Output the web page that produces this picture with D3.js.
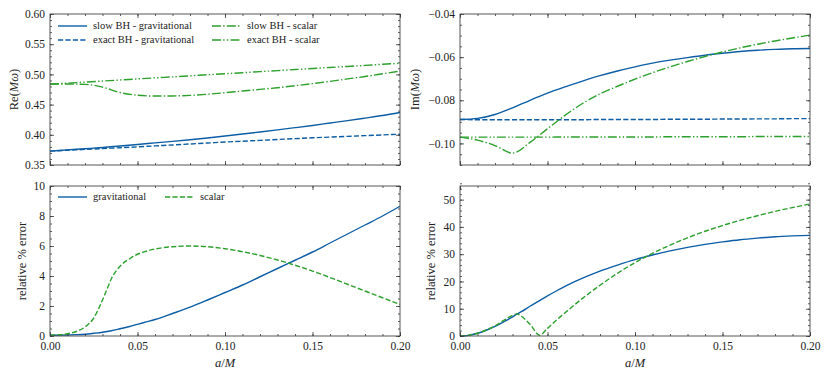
<!DOCTYPE html>
<html>
<head>
<meta charset="utf-8">
<script src="https://cdn.jsdelivr.net/npm/d3@7"></script>
<style>
  body { margin: 0; background: #fff; }
  svg { display: block; }
  svg text { font-family: "Liberation Serif", "DejaVu Serif", serif; }
</style>
</head>
<body>
<script>
// figure size
var w = 830, h = 380;

// spin grid for the frequency panels
var aGrid = [0, 0.01, 0.02, 0.03, 0.04, 0.05, 0.06, 0.07, 0.08, 0.09, 0.10,
             0.11, 0.12, 0.13, 0.14, 0.15, 0.16, 0.17, 0.18, 0.19, 0.20];

// Re(M omega)
var reSlowGrav   = [0.373, 0.375, 0.377, 0.379, 0.3815, 0.384, 0.3866, 0.3892, 0.3919, 0.3948, 0.398,
                    0.4013, 0.4047, 0.4082, 0.4118, 0.4155, 0.4195, 0.4235, 0.4277, 0.432, 0.437];
var reExactGrav  = [0.373, 0.3744, 0.3758, 0.3772, 0.3786, 0.380, 0.3816, 0.3832, 0.3848, 0.3864, 0.388,
                    0.3894, 0.3908, 0.3922, 0.3936, 0.395, 0.3962, 0.3974, 0.3986, 0.3998, 0.401];
var reSlowScalar = [0.484, 0.4841, 0.4835, 0.479, 0.470, 0.4655, 0.4642, 0.4643, 0.4652, 0.4672, 0.4697,
                    0.4725, 0.4752, 0.478, 0.4812, 0.4847, 0.4885, 0.4925, 0.4965, 0.501, 0.5056];
var reExactScalar = [0.4838, 0.4855, 0.4873, 0.4890, 0.4907, 0.4925, 0.4942, 0.4959, 0.4976, 0.4994, 0.5011,
                     0.5028, 0.5046, 0.5063, 0.5080, 0.5098, 0.5115, 0.5132, 0.5149, 0.5167, 0.5184];

// Im(M omega)
var imSlowGrav   = [-0.0889, -0.0884, -0.0866, -0.0835, -0.0800, -0.0767, -0.0738, -0.0711, -0.0686, -0.0664, -0.0645,
                    -0.0628, -0.0614, -0.0602, -0.0591, -0.0582, -0.0574, -0.0568, -0.0564, -0.0561, -0.0560];
var imExactGrav  = [-0.0889, -0.0890, -0.0890, -0.0890, -0.0890, -0.0890, -0.0890, -0.0890, -0.0889, -0.0889, -0.0889,
                    -0.0889, -0.0888, -0.0888, -0.0888, -0.0887, -0.0887, -0.0886, -0.0886, -0.0885, -0.0885];
var imSlowScalar = [-0.0971, -0.0985, -0.1010, -0.1045, -0.0995, -0.0932, -0.0870, -0.0815, -0.0770, -0.0735, -0.0702,
                    -0.0672, -0.0645, -0.0620, -0.0597, -0.0576, -0.0557, -0.0540, -0.0525, -0.0511, -0.0498];
var imExactScalar = [-0.0971, -0.0971, -0.0971, -0.0971, -0.0971, -0.0971, -0.0970, -0.0970, -0.0970, -0.0970, -0.0970,
                     -0.0970, -0.0969, -0.0969, -0.0969, -0.0969, -0.0969, -0.0968, -0.0968, -0.0968, -0.0968];

// finer spin grid for the error panels
var errGrid = [0, 0.005, 0.01, 0.015, 0.02, 0.025, 0.03, 0.0325, 0.035, 0.04, 0.0455, 0.05, 0.055, 0.06,
               0.07, 0.08, 0.09, 0.10, 0.11, 0.12, 0.13, 0.14, 0.15, 0.16, 0.17, 0.18, 0.19, 0.20];

// relative % error of Re
var errReGrav   = [0.05, 0.055, 0.07, 0.09, 0.12, 0.18, 0.25, 0.30, 0.35, 0.48, 0.63, 0.78, 0.94, 1.1,
                   1.5, 1.92, 2.4, 2.9, 3.4, 3.95, 4.5, 5.05, 5.6, 6.2, 6.8, 7.4, 8.0, 8.65];
var errReScalar = [0.05, 0.08, 0.15, 0.3, 0.6, 1.2, 2.4, 3.1, 3.8, 4.65, 5.15, 5.45, 5.65, 5.8,
                   5.95, 6.0, 5.95, 5.82, 5.62, 5.37, 5.07, 4.72, 4.33, 3.9, 3.45, 3.0, 2.55, 2.1];

// relative % error of Im
var errImGrav   = [0, 0.25, 1.0, 2.1, 3.5, 5.2, 7.0, 8.0, 8.9, 10.9, 13.0, 14.7, 16.5, 18.2,
                   21.2, 23.8, 26.0, 28.0, 29.7, 31.2, 32.5, 33.6, 34.5, 35.3, 35.9, 36.4, 36.7, 36.9];
var errImScalar = [0, 0.3, 1.0, 2.2, 3.7, 5.7, 7.6, 8.1, 7.3, 4.3, 0.3, 2.8, 5.8, 8.5,
                   13.8, 18.6, 23.0, 26.9, 30.3, 33.3, 36.0, 38.4, 40.5, 42.4, 44.1, 45.7, 47.1, 48.4];

// tick labels
var xTicks = [0, 0.05, 0.10, 0.15, 0.20];
var reTicks = [0.35, 0.40, 0.45, 0.50, 0.55, 0.60];
var imTicks = [-0.10, -0.08, -0.06, -0.04];
var errReTicks = [0, 2, 4, 6, 8, 10];
var errImTicks = [0, 10, 20, 30, 40, 50];

var blue = "#0C5DA5", green = "#2ca02c";
var serif = '"Liberation Serif", "DejaVu Serif", serif';
var lw = 1.4;
var dashes = {
  solid: null,
  dashed: [3.7 * lw, 1.6 * lw].join(","),
  dashdot: [6.4 * lw, 1.6 * lw, 1 * lw, 1.6 * lw].join(","),
  dashdotdot: [6.4 * lw, 1.6 * lw, 1 * lw, 1.6 * lw, 1 * lw, 1.6 * lw].join(",")
};

var svg = d3.select("body")
    .append("svg")
    .attr("width", w)
    .attr("height", h)
    .attr("class", "figure");

// evenly spaced minor tick positions between the axis limits
function minorTicks(lo, hi, step) {
  var out = [];
  var n = Math.round((hi - lo) / step);
  for (var i = 0; i <= n; i++) out.push(lo + i * step);
  return out;
}

function drawPanel(p) {
  var g = svg.append("g")
      .attr("class", "panel")
      .attr("transform", "translate(" + p.left + "," + p.top + ")");
  var pw = 350, ph = p.height;

  var x = d3.scaleLinear().domain([0, 0.2]).range([0, pw]);
  var y = d3.scaleLinear().domain(p.yDomain).range([ph, 0]);

  // series
  var line = d3.line()
      .x(function(d) { return x(d[0]); })
      .y(function(d) { return y(d[1]); })
      .curve(d3.curveMonotoneX);

  g.selectAll(".series")
      .data(p.series)
      .enter()
      .append("path")
      .attr("class", "series")
      .attr("d", function(s) { return line(d3.zip(s.xs, s.ys)); })
      .attr("fill", "none")
      .attr("stroke", function(s) { return s.color; })
      .attr("stroke-width", lw)
      .attr("stroke-dasharray", function(s) { return dashes[s.style]; });

  // ticks on all four sides, pointing inward
  var xMinor = minorTicks(0, 0.2, 0.01);
  var yMinor = minorTicks(p.yDomain[0], p.yDomain[1], p.yMinor);
  function axisGroup(axis, tx, ty) {
    var a = g.append("g").attr("transform", "translate(" + tx + "," + ty + ")").call(axis);
    a.select(".domain").remove();
    a.attr("font-family", null);
    a.selectAll("line").attr("stroke", "#333").attr("stroke-width", 0.8);
    a.selectAll("text")
        .style("font-family", serif)
        .attr("font-size", 11.5)
        .attr("fill", "#222");
    return a;
  }
  axisGroup(d3.axisBottom(x).tickValues(xMinor).tickSize(-2).tickFormat(""), 0, ph);
  axisGroup(d3.axisTop(x).tickValues(xMinor).tickSize(-2).tickFormat(""), 0, 0);
  axisGroup(d3.axisLeft(y).tickValues(yMinor).tickSize(-2).tickFormat(""), 0, 0);
  axisGroup(d3.axisRight(y).tickValues(yMinor).tickSize(-2).tickFormat(""), pw, 0);

  axisGroup(d3.axisBottom(x).tickValues(xTicks).tickSize(-4).tickPadding(6)
      .tickFormat(p.xLabels ? d3.format(".2f") : ""), 0, ph);
  axisGroup(d3.axisTop(x).tickValues(xTicks).tickSize(-4).tickFormat(""), 0, 0);
  axisGroup(d3.axisLeft(y).tickValues(p.yTicks).tickSize(-4).tickPadding(5)
      .tickFormat(d3.format(p.yFormat)), 0, 0);
  axisGroup(d3.axisRight(y).tickValues(p.yTicks).tickSize(-4).tickFormat(""), pw, 0);

  // frame
  g.append("rect")
      .attr("width", pw)
      .attr("height", ph)
      .attr("fill", "none")
      .attr("stroke", "#444")
      .attr("stroke-width", 0.9);

  // y label
  var yl = g.append("text")
      .attr("transform", "translate(" + p.yLabelX + "," + (ph / 2) + ") rotate(-90)")
      .attr("text-anchor", "middle")
      .style("font-family", serif)
      .attr("font-size", 12.5)
      .attr("fill", "#222");
  p.yLabel.forEach(function(part) {
    yl.append("tspan")
        .attr("font-style", part[1] ? "italic" : "normal")
        .text(part[0]);
  });

  // x label
  if (p.xLabels) {
    var xl = g.append("text")
        .attr("x", pw / 2)
        .attr("y", ph + 31)
        .attr("text-anchor", "middle")
        .style("font-family", serif)
        .attr("font-size", 12.5)
        .attr("fill", "#222");
    xl.append("tspan").attr("font-style", "italic").text("a");
    xl.append("tspan").text("/");
    xl.append("tspan").attr("font-style", "italic").text("M");
  }

  // legend
  if (p.legend) {
    var items = g.selectAll(".legend")
        .data(p.series)
        .enter()
        .append("g")
        .attr("class", "legend")
        .attr("transform", function(s, i) {
          var pos = p.legend[i];
          return "translate(" + pos[0] + "," + pos[1] + ")";
        });
    items.append("line")
        .attr("x1", 0).attr("x2", 29)
        .attr("stroke", function(s) { return s.color; })
        .attr("stroke-width", lw)
        .attr("stroke-dasharray", function(s) { return dashes[s.style]; });
    items.append("text")
        .attr("x", 35)
        .attr("dy", "0.33em")
        .style("font-family", serif)
        .attr("font-size", 10.5)
        .attr("fill", "#222")
        .text(function(s) { return s.name; });
  }
}

var panels = [
  {
    left: 50, top: 14, height: 151,
    yDomain: [0.35, 0.60], yTicks: reTicks, yMinor: 0.01, yFormat: ".2f",
    yLabel: [["Re(", false], ["Mω", true], [")", false]], yLabelX: -32,
    xLabels: false,
    series: [
      { name: "slow BH - gravitational", xs: aGrid, ys: reSlowGrav, color: blue, style: "solid" },
      { name: "exact BH - gravitational", xs: aGrid, ys: reExactGrav, color: blue, style: "dashed" },
      { name: "slow BH - scalar", xs: aGrid, ys: reSlowScalar, color: green, style: "dashdot" },
      { name: "exact BH - scalar", xs: aGrid, ys: reExactScalar, color: green, style: "dashdotdot" }
    ],
    legend: [[8, 12], [8, 26], [162, 12], [162, 26]]
  },
  {
    left: 460, top: 14, height: 151,
    yDomain: [-0.11, -0.04], yTicks: imTicks, yMinor: 0.005, yFormat: ".2f",
    yLabel: [["Im(", false], ["Mω", true], [")", false]], yLabelX: -41,
    xLabels: false,
    series: [
      { name: "slow BH - gravitational", xs: aGrid, ys: imSlowGrav, color: blue, style: "solid" },
      { name: "exact BH - gravitational", xs: aGrid, ys: imExactGrav, color: blue, style: "dashed" },
      { name: "slow BH - scalar", xs: aGrid, ys: imSlowScalar, color: green, style: "dashdot" },
      { name: "exact BH - scalar", xs: aGrid, ys: imExactScalar, color: green, style: "dashdotdot" }
    ]
  },
  {
    left: 50, top: 186, height: 150,
    yDomain: [0, 10], yTicks: errReTicks, yMinor: 0.5, yFormat: "d",
    yLabel: [["relative % error", false]], yLabelX: -24,
    xLabels: true,
    series: [
      { name: "gravitational", xs: errGrid, ys: errReGrav, color: blue, style: "solid" },
      { name: "scalar", xs: errGrid, ys: errReScalar, color: green, style: "dashed" }
    ],
    legend: [[8, 11], [115, 11]]
  },
  {
    left: 460, top: 186, height: 150,
    yDomain: [0, 55], yTicks: errImTicks, yMinor: 2, yFormat: "d",
    yLabel: [["relative % error", false]], yLabelX: -25,
    xLabels: true,
    series: [
      { name: "gravitational", xs: errGrid, ys: errImGrav, color: blue, style: "solid" },
      { name: "scalar", xs: errGrid, ys: errImScalar, color: green, style: "dashed" }
    ]
  }
];

panels.forEach(drawPanel);
</script>
</body>
</html>
